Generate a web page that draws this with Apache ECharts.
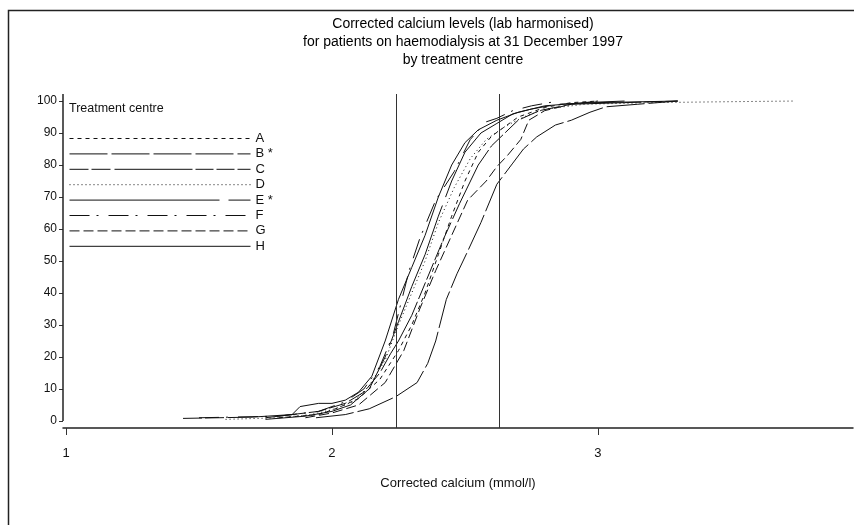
<!DOCTYPE html>
<html>
<head>
<meta charset="utf-8">
<script src="https://cdn.jsdelivr.net/npm/echarts@6/dist/echarts.min.js"></script>
<style>
html,body{margin:0;padding:0;background:#fff;}
#chart{width:854px;height:525px;}
</style>
</head>
<body>
<div id="chart"></div>
<script>
// ---- data (corrected calcium mmol/l, cumulative %) ----
const titleLines = ['Corrected calcium levels (lab harmonised)', 'for patients on haemodialysis at 31 December 1997', 'by treatment centre'];
const xAxisName = 'Corrected calcium (mmol/l)';
const legendTitle = 'Treatment centre';
const centreNames = ['A', 'B *', 'C', 'D', 'E *', 'F', 'G', 'H'];
const xTicks = [1, 2, 3];
const yTicks = [0, 10, 20, 30, 40, 50, 60, 70, 80, 90, 100];
const refLines = [2.24, 2.635];

const centreA = [[1.80,1],[1.95,2],[2.02,4],[2.10,7],[2.18,13],[2.25,22],[2.30,30],[2.35,40],[2.40,52],[2.45,64],[2.50,75],[2.55,84],[2.60,89],[2.65,92],[2.70,95],[2.80,98],[2.90,99.5],[3.00,100]];
const centreB = [[1.94,1],[2.05,2],[2.14,3.8],[2.24,7.6],[2.32,12],[2.36,18],[2.39,25],[2.43,38],[2.47,46],[2.51,53],[2.56,62],[2.62,74],[2.68,80.6],[2.72,85],[2.77,88.8],[2.84,92.5],[2.90,94],[2.97,96.5],[3.03,98.2],[3.15,99],[3.30,100]];
const centreC = [[1.44,0.8],[1.70,1.2],[1.85,2],[1.95,3],[2.05,5.5],[2.12,9],[2.18,15],[2.22,21],[2.25,25],[2.30,33],[2.36,45],[2.42,57],[2.48,68],[2.55,80],[2.60,86],[2.65,90],[2.70,94],[2.78,97],[2.90,99],[3.10,99.5],[3.30,100]];
const centreD = [[1.60,0.5],[1.80,1],[1.92,2],[2.00,3.5],[2.08,6],[2.14,11],[2.20,19],[2.25,30],[2.30,40],[2.35,50],[2.40,62],[2.46,73],[2.52,82],[2.58,88],[2.65,92],[2.72,95],[2.80,97.5],[2.95,99],[3.20,99.5],[3.50,99.8],[3.74,100]];
const centreE = [[1.75,0.5],[1.90,1.5],[2.00,3],[2.07,5],[2.14,10],[2.20,20],[2.25,31],[2.30,42],[2.35,52],[2.40,64],[2.45,75],[2.50,84],[2.56,90],[2.62,93],[2.68,96],[2.75,97.5],[2.85,99],[3.00,99.5],[3.30,100]];
const centreF = [[1.50,1],[1.80,1.5],[1.95,3],[2.05,6],[2.12,10],[2.18,17],[2.23,27],[2.29,47],[2.33,57],[2.39,69],[2.46,78],[2.52,88],[2.58,93.5],[2.62,94.6],[2.68,97],[2.75,98.5],[2.85,100]];
const centreG = [[1.90,1],[2.00,2.5],[2.10,5],[2.20,12],[2.27,22],[2.33,35],[2.39,47],[2.45,58],[2.51,69],[2.58,75],[2.62,79.5],[2.66,83],[2.71,88],[2.74,94],[2.80,97],[2.90,99],[3.00,100]];
const centreH = [[1.75,1],[1.85,2],[1.88,4.5],[1.95,5.5],[2.00,5.5],[2.05,6.5],[2.10,9],[2.15,14],[2.20,25],[2.25,38],[2.30,48],[2.35,58],[2.40,70],[2.45,80],[2.50,87],[2.55,91],[2.62,94],[2.70,96.5],[2.80,98.5],[2.95,99.5],[3.10,100]];
const centreData = [centreA, centreB, centreC, centreD, centreE, centreF, centreG, centreH];

// ---- styles ----
const FONT = "'Liberation Sans', Arial, sans-serif";
const INK = '#111';
const dashes = [[4,4],[38,4],[19,3,19,4,78,3,18,3,18,3],[1,3],[150,9],[20,7,2,10],[10,4],'solid'];
const X_MIN = 0.9887, X_MAX = 3.959, Y_MIN = -2.2, Y_MAX = 102.2;

const chart = echarts.init(document.getElementById('chart'), null, {renderer: 'canvas'});

const series = centreNames.map((name, i) => ({
  name: name,
  type: 'line',
  data: centreData[i],
  showSymbol: false,
  symbol: 'none',
  smooth: false,
  clip: false,
  lineStyle: {color: INK, width: 1, type: dashes[i]},
  itemStyle: {color: INK},
  silent: true,
  z: 3
}));

// reference lines + the y axis line (which stops at 0, above the x axis line)
series[series.length - 1].markLine = {
  silent: true,
  symbol: ['none', 'none'],
  label: {show: false},
  lineStyle: {color: '#333', width: 1, type: 'solid'},
  animation: false,
  data: refLines.map(v => ({xAxis: v})).concat([
    [{coord: [X_MIN, 0], lineStyle: {color: '#222', width: 1.5}}, {coord: [X_MIN, Y_MAX]}]
  ])
};

const option = {
  animation: false,
  backgroundColor: '#fff',
  textStyle: {fontFamily: FONT, color: '#000'},
  title: {
    text: titleLines.join('\n'),
    left: 458,
    textAlign: 'center',
    top: 10,
    textStyle: {fontFamily: FONT, fontSize: 14, fontWeight: 'normal', color: '#000', lineHeight: 18}
  },
  graphic: [
    {type: 'rect', left: 6, top: 8, silent: true, shape: {x: 0, y: 0, width: 900, height: 600}, style: {fill: 'none', stroke: '#222', lineWidth: 1.5}},
    {type: 'text', left: 69, top: 102, silent: true, style: {text: legendTitle, font: '12.5px ' + FONT, fill: '#111'}}
  ],
  legend: {
    data: centreNames,
    orient: 'vertical',
    left: 69,
    top: 132,
    padding: 0,
    itemWidth: 181,
    itemHeight: 13,
    itemGap: 2.4,
    selectedMode: false,
    textStyle: {fontFamily: FONT, fontSize: 13, color: '#111'},
    itemStyle: {opacity: 0, color: 'rgba(0,0,0,0)', borderColor: 'rgba(0,0,0,0)', borderWidth: 0},
    lineStyle: {width: 1}
  },
  grid: {left: 63, right: 1, top: 94, bottom: 97, containLabel: false},
  xAxis: {
    type: 'value',
    min: X_MIN,
    max: X_MAX,
    name: xAxisName,
    nameLocation: 'middle',
    nameGap: 49,
    nameTextStyle: {fontFamily: FONT, fontSize: 13, color: '#111'},
    axisLine: {show: true, onZero: false, lineStyle: {color: '#222', width: 1.5}},
    axisTick: {show: true, customValues: xTicks, length: 7, inside: false, lineStyle: {color: '#333', width: 1}},
    axisLabel: {customValues: xTicks, margin: 19, fontFamily: FONT, fontSize: 13, color: '#111'},
    splitLine: {show: false}
  },
  yAxis: {
    type: 'value',
    min: Y_MIN,
    max: Y_MAX,
    axisLine: {show: false},
    axisTick: {show: true, customValues: yTicks, length: 4, inside: false, lineStyle: {color: '#333', width: 1}},
    axisLabel: {customValues: yTicks, margin: 6, fontFamily: FONT, fontSize: 12, color: '#111'},
    splitLine: {show: false}
  },
  series: series
};

chart.setOption(option);
</script>
</body>
</html>
